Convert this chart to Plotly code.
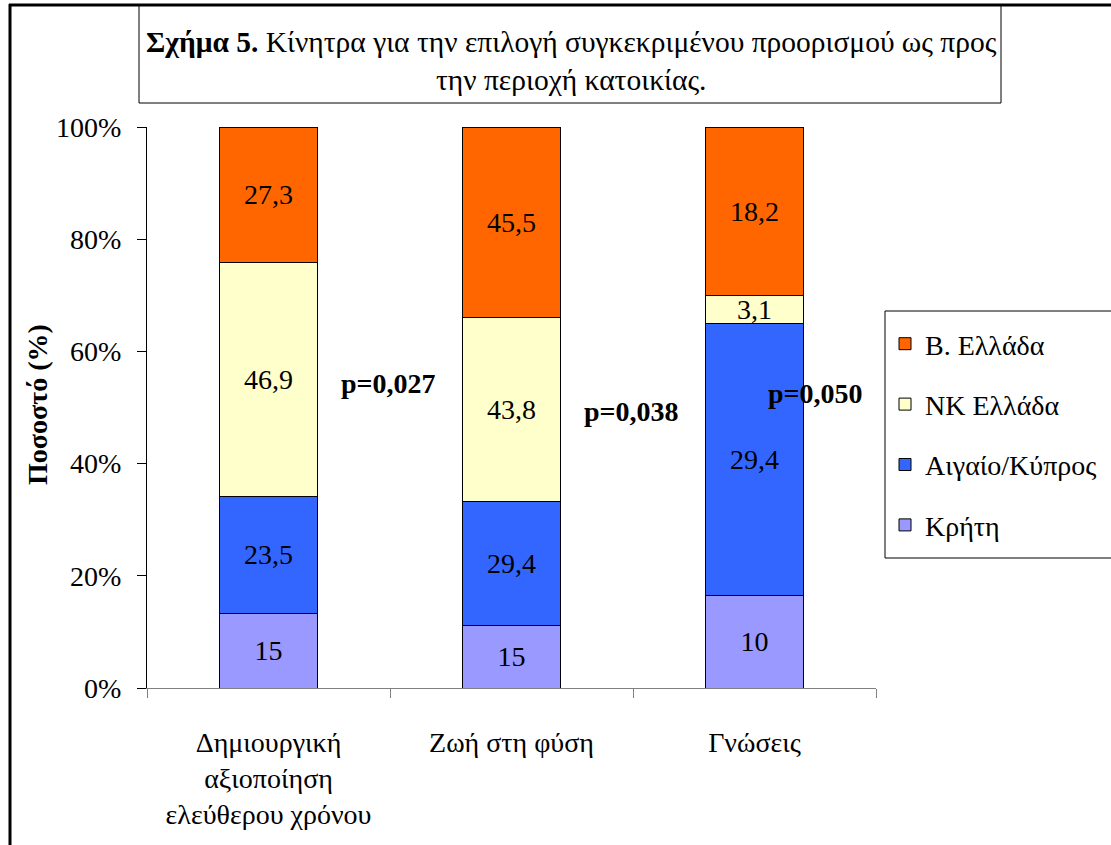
import plotly.graph_objects as go

categories = ["Δημιουργική<br>αξιοποίηση<br>ελεύθερου χρόνου", "Ζωή στη φύση", "Γνώσεις"]
series_names = ["Κρήτη", "Αιγαίο/Κύπρος", "ΝΚ Ελλάδα", "Β. Ελλάδα"]
kriti = [15, 15, 10]
aigaio = [23.5, 29.4, 29.4]
nk_ellada = [46.9, 43.8, 3.1]
v_ellada = [27.3, 45.5, 18.2]
p_values = ["p=0,027", "p=0,038", "p=0,050"]
colors = ["#9999FF", "#3366FF", "#FFFFCC", "#FF6600"]

FONT = "Liberation Serif, DejaVu Serif, Times New Roman, serif"
FS = 28

W, H = 1111, 845
# plot area in pixel coords
L, R, T, B = 147, 876, 127, 688
pw, ph = R - L, B - T

def px(x):
    return (x - L) / pw

def py(y):
    return (B - y) / ph

fig = go.Figure()
for i, (name, vals, col) in enumerate(zip(series_names, [kriti, aigaio, nk_ellada, v_ellada], colors)):
    fig.add_trace(go.Bar(
        x=categories, y=vals, name=name, legendgroup=f"g{i}", legendrank=4 - i,
        marker=dict(color=col, line=dict(color="black", width=1)),
        text=[f"{v:g}".replace(".", ",") for v in vals],
        textposition="inside", insidetextanchor="middle", textangle=0,
        textfont=dict(family=FONT, size=FS, color="black"),
        constraintext="none",
        hoverinfo="skip",
    ))

fig.update_layout(
    width=W, height=H,
    margin=dict(l=L, r=W - R, t=T, b=H - B, autoexpand=False),
    barmode="stack", barnorm="percent", bargap=0.593,
    paper_bgcolor="white", plot_bgcolor="white",
    font=dict(family=FONT, size=FS, color="black"),
    showlegend=True,
    legend=dict(
        x=px(885), y=py(319), xanchor="left", yanchor="top",
        traceorder="grouped", font=dict(family=FONT, size=FS, color="black"),
        bgcolor="rgba(0,0,0,0)", borderwidth=0,
        itemwidth=30, tracegroupgap=21,
    ),
)
fig.update_xaxes(
    showline=True, linecolor="#808080", linewidth=1,
    ticks="outside", tickson="boundaries", ticklen=9, tickcolor="#808080",
    ticklabelstandoff=29,
    tickfont=dict(family=FONT, size=FS, color="black"),
    showgrid=False,
)
fig.update_yaxes(
    range=[0, 100], dtick=20, ticksuffix="%",
    showline=True, linecolor="black", linewidth=1,
    ticks="outside", ticklen=9, tickcolor="black",
    ticklabelstandoff=10,
    tickfont=dict(family=FONT, size=FS, color="black"),
    showgrid=False, zeroline=False,
)

# p-value annotations
for txt, (xx, yy) in zip(p_values, [(388, 383), (631, 411), (815, 393)]):
    fig.add_annotation(x=px(xx), y=py(yy), xref="paper", yref="paper", text=f"<b>{txt}</b>",
                       xanchor="center", yanchor="middle",
                       showarrow=False, font=dict(family=FONT, size=FS, color="black"))

# y axis title
fig.add_annotation(x=px(38), y=py(405), xref="paper", yref="paper", text="<b>Ποσοστό (%)</b>",
                   xanchor="center", yanchor="middle",
                   textangle=-90, showarrow=False, font=dict(family=FONT, size=FS, color="black"))

# title box and text
fig.add_shape(type="rect", xref="paper", yref="paper", x0=px(139), x1=px(1001), y0=py(103), y1=py(5),
              line=dict(color="black", width=1), fillcolor="white", layer="below")
fig.add_annotation(x=px(571), y=py(61), xref="paper", yref="paper",
                   text="<b>Σχήμα 5.</b> Κίνητρα για την επιλογή συγκεκριμένου προορισμού ως προς<br>την περιοχή κατοικίας.",
                   xanchor="center", yanchor="middle",
                   showarrow=False, align="center", font=dict(family=FONT, size=29.5, color="black"))

# legend box
fig.add_shape(type="rect", xref="paper", yref="paper", x0=px(885), x1=px(1125), y0=py(558), y1=py(311),
              line=dict(color="black", width=1))

# outer frame
fig.add_shape(type="line", xref="paper", yref="paper", x0=px(10), x1=px(10), y0=py(4), y1=py(870),
              line=dict(color="black", width=3))
fig.add_shape(type="line", xref="paper", yref="paper", x0=px(9), x1=px(1130), y0=py(5), y1=py(5),
              line=dict(color="black", width=3))

fig.write_html("out.html", config={"displayModeBar": False},
               post_script="document.body.style.margin='0';")
